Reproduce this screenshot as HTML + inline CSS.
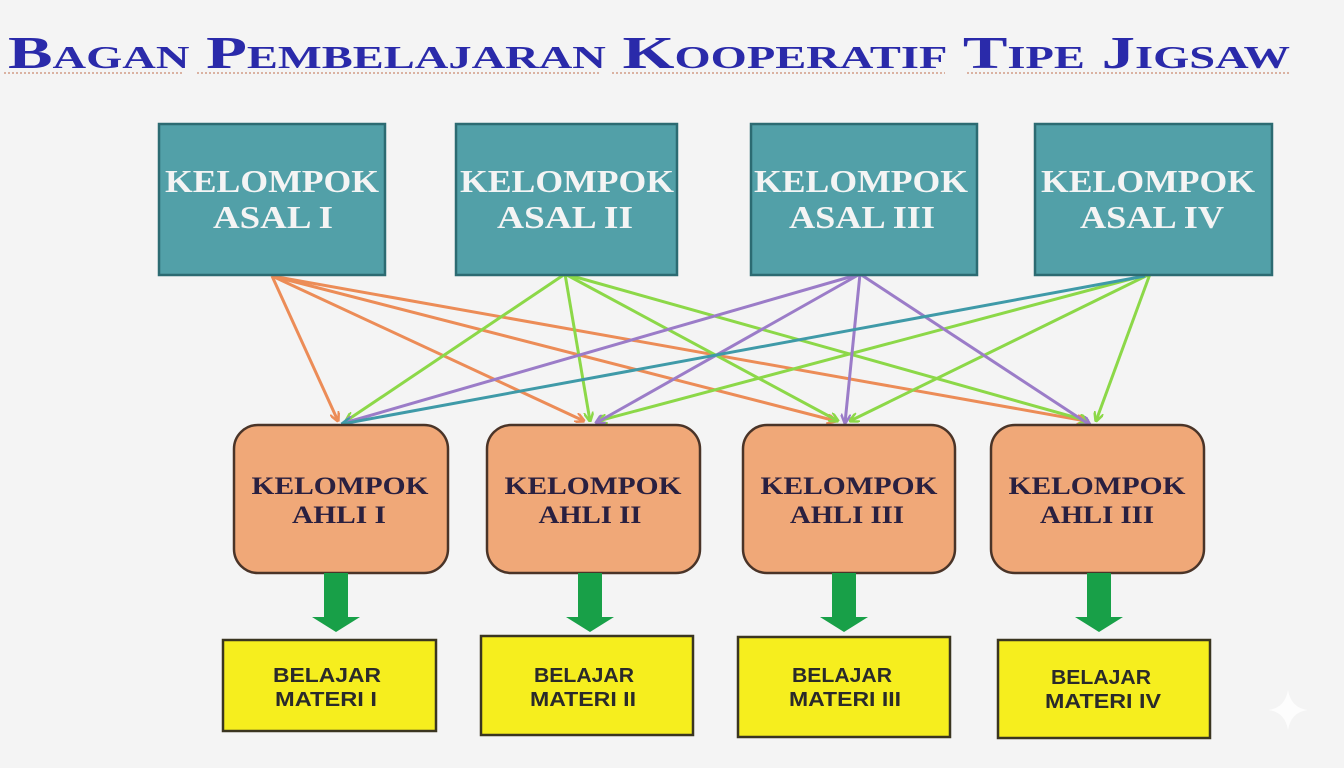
<!DOCTYPE html>
<html><head><meta charset="utf-8"><style>
html,body{margin:0;padding:0;background:#f4f4f4;}
svg{display:block;}
</style></head><body>
<svg width="1344" height="768" viewBox="0 0 1344 768" xmlns="http://www.w3.org/2000/svg">
<defs>
<marker id="mo" markerWidth="10" markerHeight="10" refX="9" refY="5" orient="auto" markerUnits="userSpaceOnUse"><path d="M0,0 L10,5 L0,10" fill="none" stroke="#ec8c57" stroke-width="2.5"/></marker>
<marker id="mg" markerWidth="10" markerHeight="10" refX="9" refY="5" orient="auto" markerUnits="userSpaceOnUse"><path d="M0,0 L10,5 L0,10" fill="none" stroke="#8cd848" stroke-width="2.5"/></marker>
<marker id="mp" markerWidth="10" markerHeight="10" refX="9" refY="5" orient="auto" markerUnits="userSpaceOnUse"><path d="M0,0 L10,5 L0,10" fill="none" stroke="#9b7cc8" stroke-width="2.5"/></marker>
<marker id="mt" markerWidth="10" markerHeight="10" refX="9" refY="5" orient="auto" markerUnits="userSpaceOnUse"><path d="M0,0 L10,5 L0,10" fill="none" stroke="#3f9aa8" stroke-width="2.5"/></marker>
</defs>
<rect width="1344" height="768" fill="#f4f4f4"/>
<text x="8" y="68" font-family="Liberation Serif, serif" font-weight="bold" font-size="46" font-variant="small-caps" fill="#2a2aaa" textLength="1282" lengthAdjust="spacingAndGlyphs">Bagan Pembelajaran Kooperatif  Tipe Jigsaw</text>
<g stroke="#c98a70" stroke-width="1.3" stroke-dasharray="2 2">
<line x1="4" y1="73" x2="183" y2="73"/>
<line x1="197" y1="73" x2="600" y2="73"/>
<line x1="612" y1="73" x2="945" y2="73"/>
<line x1="967" y1="73" x2="1290" y2="73"/>
</g>

<!-- connectors -->
<g fill="none" stroke-width="3">
<g stroke="#ec8c57">
<line x1="272" y1="276" x2="338" y2="421" marker-end="url(#mo)"/>
<line x1="272" y1="276" x2="584" y2="421" marker-end="url(#mo)"/>
<line x1="272" y1="276" x2="836" y2="421" marker-end="url(#mo)"/>
<line x1="272" y1="276" x2="1086" y2="421" marker-end="url(#mo)"/>
</g>
<g stroke="#8cd848">
<line x1="565" y1="274" x2="346" y2="421" marker-end="url(#mg)"/>
<line x1="565" y1="274" x2="590" y2="421" marker-end="url(#mg)"/>
<line x1="565" y1="274" x2="838" y2="421" marker-end="url(#mg)"/>
<line x1="565" y1="274" x2="1088" y2="421" marker-end="url(#mg)"/>
<line x1="1150" y1="274" x2="598" y2="421" marker-end="url(#mg)"/>
<line x1="1150" y1="274" x2="850" y2="421" marker-end="url(#mg)"/>
<line x1="1150" y1="274" x2="1096" y2="421" marker-end="url(#mg)"/>
</g>
<g stroke="#9b7cc8">
<line x1="860" y1="274" x2="344" y2="423" marker-end="url(#mp)"/>
<line x1="860" y1="274" x2="596" y2="423" marker-end="url(#mp)"/>
<line x1="860" y1="274" x2="845" y2="423" marker-end="url(#mp)"/>
<line x1="860" y1="274" x2="1090" y2="425" marker-end="url(#mp)"/>
</g>
<line x1="1145" y1="276" x2="342" y2="424" stroke="#3f9aa8" marker-end="url(#mt)"/>
</g>

<!-- teal boxes -->
<g fill="#52a0a8" stroke="#2c6b72" stroke-width="2.5">
<rect x="159" y="124" width="226" height="151"/>
<rect x="456" y="124" width="221" height="151"/>
<rect x="751" y="124" width="226" height="151"/>
<rect x="1035" y="124" width="237" height="151"/>
</g>
<g font-family="Liberation Serif, serif" font-weight="bold" font-size="32" fill="#f4f4f4" text-anchor="middle">
<text x="272" y="192" textLength="214" lengthAdjust="spacingAndGlyphs">KELOMPOK</text>
<text x="273" y="228" textLength="120" lengthAdjust="spacingAndGlyphs">ASAL I</text>
<text x="567" y="192" textLength="214" lengthAdjust="spacingAndGlyphs">KELOMPOK</text>
<text x="565" y="228" textLength="136" lengthAdjust="spacingAndGlyphs">ASAL II</text>
<text x="861" y="192" textLength="214" lengthAdjust="spacingAndGlyphs">KELOMPOK</text>
<text x="862" y="228" textLength="146" lengthAdjust="spacingAndGlyphs">ASAL III</text>
<text x="1148" y="192" textLength="214" lengthAdjust="spacingAndGlyphs">KELOMPOK</text>
<text x="1152" y="228" textLength="144" lengthAdjust="spacingAndGlyphs">ASAL IV</text>
</g>

<!-- orange boxes -->
<g fill="#f0a878" stroke="#4a3428" stroke-width="2.5">
<rect x="234" y="425" width="214" height="148" rx="24"/>
<rect x="487" y="425" width="213" height="148" rx="24"/>
<rect x="743" y="425" width="212" height="148" rx="24"/>
<rect x="991" y="425" width="213" height="148" rx="24"/>
</g>
<g font-family="Liberation Serif, serif" font-weight="bold" font-size="25" fill="#2a2040" text-anchor="middle">
<text x="340" y="494" textLength="177" lengthAdjust="spacingAndGlyphs">KELOMPOK</text>
<text x="339" y="523" textLength="94" lengthAdjust="spacingAndGlyphs">AHLI I</text>
<text x="593" y="494" textLength="177" lengthAdjust="spacingAndGlyphs">KELOMPOK</text>
<text x="590" y="523" textLength="103" lengthAdjust="spacingAndGlyphs">AHLI II</text>
<text x="849" y="494" textLength="177" lengthAdjust="spacingAndGlyphs">KELOMPOK</text>
<text x="847" y="523" textLength="114" lengthAdjust="spacingAndGlyphs">AHLI III</text>
<text x="1097" y="494" textLength="177" lengthAdjust="spacingAndGlyphs">KELOMPOK</text>
<text x="1097" y="523" textLength="114" lengthAdjust="spacingAndGlyphs">AHLI III</text>
</g>

<!-- green down arrows -->
<g fill="#18a048">
<path d="M324,573 h24 v44 h12 l-24,15 l-24,-15 h12 z"/>
<path d="M578,573 h24 v44 h12 l-24,15 l-24,-15 h12 z"/>
<path d="M832,573 h24 v44 h12 l-24,15 l-24,-15 h12 z"/>
<path d="M1087,573 h24 v44 h12 l-24,15 l-24,-15 h12 z"/>
</g>

<!-- yellow boxes -->
<g fill="#f6ee1e" stroke="#3a3520" stroke-width="2.5">
<rect x="223" y="640" width="213" height="91"/>
<rect x="481" y="636" width="212" height="99"/>
<rect x="738" y="637" width="212" height="100"/>
<rect x="998" y="640" width="212" height="98"/>
</g>
<g font-family="Liberation Sans, sans-serif" font-weight="bold" font-size="20" fill="#2a2a2a" text-anchor="middle">
<text x="327" y="682" textLength="108" lengthAdjust="spacingAndGlyphs">BELAJAR</text>
<text x="326" y="706" textLength="102" lengthAdjust="spacingAndGlyphs">MATERI I</text>
<text x="584" y="682" textLength="100" lengthAdjust="spacingAndGlyphs">BELAJAR</text>
<text x="583" y="706" textLength="106" lengthAdjust="spacingAndGlyphs">MATERI II</text>
<text x="842" y="682" textLength="100" lengthAdjust="spacingAndGlyphs">BELAJAR</text>
<text x="845" y="706" textLength="112" lengthAdjust="spacingAndGlyphs">MATERI III</text>
<text x="1101" y="684" textLength="100" lengthAdjust="spacingAndGlyphs">BELAJAR</text>
<text x="1103" y="708" textLength="116" lengthAdjust="spacingAndGlyphs">MATERI IV</text>
</g>
<path d="M1288,690 q3,18 20,20 q-17,2 -20,20 q-3,-18 -20,-20 q17,-2 20,-20z" fill="#ffffff" opacity="0.8"/>
</svg>
</body></html>
